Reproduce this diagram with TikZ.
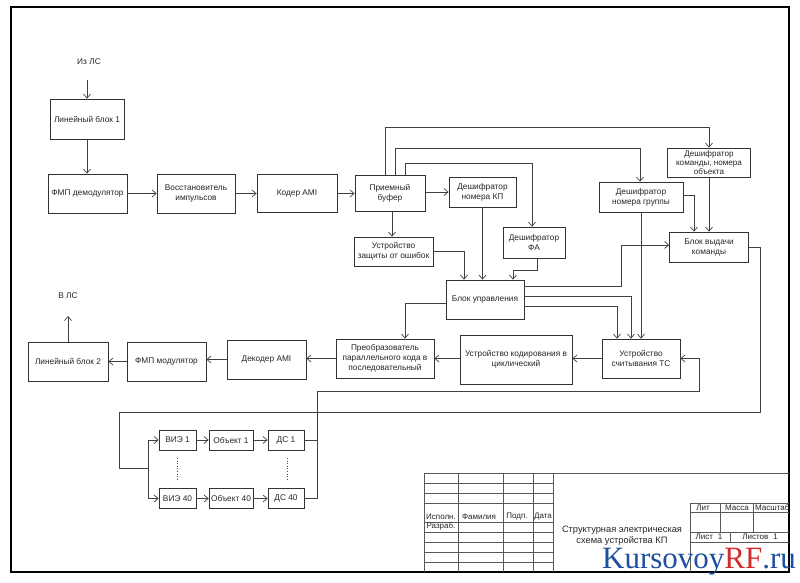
\documentclass[tikz,border=0pt]{standalone}
\usepackage{fontspec}
\setmainfont{Liberation Sans}
\newfontfamily\wmfont{Liberation Serif}
\usetikzlibrary{arrows.meta}
\definecolor{wmblue}{HTML}{1F4FA0}
\definecolor{wmred}{HTML}{D42A2A}
\begin{document}
\begin{tikzpicture}[x=1pt,y=-1pt,
  box/.style={draw=black!80, line width=0.8pt, align=center, font=\fontsize{8.3}{10}\selectfont, inner sep=1pt, text=black!85},
  conn/.style={draw=black!75, line width=0.7pt},
  arr/.style={conn, -{Straight Barb[length=4pt,width=7pt]}},
  tb/.style={draw=black!65, line width=0.6pt},
  lbl/.style={font=\fontsize{8.3}{10}\selectfont, text=black!85},
  tbl/.style={font=\fontsize{8}{8}\selectfont, text=black!85, inner sep=0pt},
]
\useasboundingbox (0,0) rectangle (800,583);
\fill[white] (0,0) rectangle (800,583);

% frame
\draw[line width=1.6pt, black] (11,7) rectangle (789,572);

% nodes
\node[box,minimum width=74pt,minimum height=40pt] (lb1) at (87,119) {Линейный блок 1};
\node[box,minimum width=79pt,minimum height=39pt] (fmpd) at (87.5,193.5) {ФМП демодулятор};
\node[box,minimum width=78pt,minimum height=39pt] (vost) at (196,193.5) {Восстановитель\\импульсов};
\node[box,minimum width=80pt,minimum height=38pt] (koder) at (297,193.5) {Кодер AMI};
\node[box,minimum width=70pt,minimum height=36pt] (buf) at (390,193) {Приемный\\буфер};
\node[box,minimum width=67pt,minimum height=30pt] (kp) at (482.5,192) {Дешифратор\\номера КП};
\node[box,minimum width=79pt,minimum height=29pt] (zash) at (393.5,251.5) {Устройство\\защиты от ошибок};
\node[box,minimum width=62pt,minimum height=31pt] (fa) at (534,242.5) {Дешифратор\\ФА};
\node[box,minimum width=83pt,minimum height=29pt,font=\fontsize{8.1}{9.3}\selectfont] (kom) at (709,162.5) {Дешифратор\\команды, номера\\объекта};
\node[box,minimum width=84pt,minimum height=30pt] (grp) at (641,197) {Дешифратор\\номера группы};
\node[box,minimum width=79pt,minimum height=30pt] (vyd) at (709,247) {Блок выдачи\\команды};
\node[box,minimum width=78pt,minimum height=39pt] (upr) at (485,299.5) {Блок управления};
\node[box,minimum width=80pt,minimum height=39pt] (lb2) at (68,361.5) {Линейный блок 2};
\node[box,minimum width=79pt,minimum height=39pt] (fmpm) at (166.5,361.5) {ФМП модулятор};
\node[box,minimum width=79pt,minimum height=39pt] (dek) at (266.5,359.5) {Декодер AMI};
\node[box,minimum width=98pt,minimum height=39pt] (preob) at (385,358.5) {Преобразователь\\параллельного кода в\\последовательный};
\node[box,minimum width=112pt,minimum height=49pt] (kod) at (516,359.5) {Устройство кодирования в\\циклический};
\node[box,minimum width=78pt,minimum height=39pt] (sch) at (641,358.5) {Устройство\\считывания ТС};

\node[box,minimum width=37pt,minimum height=20pt] (vie1) at (177.5,440) {ВИЭ 1};
\node[box,minimum width=44pt,minimum height=20pt] (ob1) at (231,440) {Объект 1};
\node[box,minimum width=36pt,minimum height=20pt] (ds1) at (286,440) {ДС 1};
\node[box,minimum width=37pt,minimum height=20pt] (vie40) at (177.5,498.5) {ВИЭ 40};
\node[box,minimum width=44pt,minimum height=20pt] (ob40) at (231,498.5) {Объект 40};
\node[box,minimum width=36pt,minimum height=20pt] (ds40) at (286,498.5) {ДС 40};

\node[lbl] (izls) at (89,62) {Из ЛС};
\node[lbl] (vls) at (68,296) {В ЛС};

% connectors
\coordinate (inp) at (87,80);
\coordinate (outp) at (68,316);
\draw[arr] (inp) -- (lb1.north);
\draw[arr] (lb1.south) -- (lb1.south |- fmpd.north);
\draw[arr] (fmpd.east) -- (fmpd.east -| vost.west);
\draw[arr] (vost.east) -- (vost.east -| koder.west);
\draw[arr] (koder.east) -- (koder.east -| buf.west);
\draw[arr] (buf.east |- kp.west) -- (kp.west);
\draw[arr] ([xshift=2pt]buf.south) -- ([xshift=2pt]buf.south |- zash.north);
\draw[arr] ([xshift=-5pt]buf.north) |- ([yshift=20pt]kom.north) -- (kom.north);
\draw[arr] ([xshift=5pt]buf.north) |- ([yshift=33pt,xshift=-1pt]grp.north) -- ([xshift=-1pt]grp.north);
\draw[arr] ([xshift=15pt]buf.north) |- ([yshift=63pt,xshift=-2pt]fa.north) -- ([xshift=-2pt]fa.north);
\draw[arr] (zash.east) -| ([xshift=-21pt]upr.north);
\draw[arr] (kp.south) -- (kp.south |- upr.north);
\draw[arr] ([xshift=3pt]fa.south) -- ++(0,12) -| ([xshift=28pt]upr.north);
\draw[arr] ([yshift=2pt]grp.east) -| ([xshift=-15pt]vyd.north);
\draw[arr] (kom.south) -- (vyd.north);
\draw[arr] ([yshift=13.5pt]upr.east) -| ([xshift=-48pt,yshift=2pt]vyd.west) -- ([yshift=2pt]vyd.west);
\draw[arr] ([yshift=3.5pt]upr.east) -| ([xshift=-10pt]sch.north);
\draw[arr] ([yshift=-6.5pt]upr.east) -| ([xshift=-24pt]sch.north);
\draw[arr] (grp.south) -- (sch.north);
\draw[arr] ([yshift=-3.5pt]upr.west) -| ([xshift=20pt]preob.north);
\draw[arr] (sch.west) -- (sch.west -| kod.east);
\draw[arr] (kod.west |- preob.east) -- (preob.east);
\draw[arr] (preob.west) -- (preob.west -| dek.east);
\draw[arr] (dek.west) -- (dek.west -| fmpm.east);
\draw[arr] (fmpm.west) -- (fmpm.west -| lb2.east);
\draw[arr] (lb2.north) -- (outp);

% command bus to objects
\coordinate (r1) at (760,412);
\coordinate (l1) at (119,468);
\coordinate (split) at (148,468);
\draw[conn] (vyd.east) -| (r1) -| (l1) -- (split);
\draw[arr] (split) |- (vie1.west);
\draw[arr] (split) |- (vie40.west);
\draw[arr] (vie1.east) -- (ob1.west);
\draw[arr] (ob1.east) -- (ds1.west);
\draw[arr] (vie40.east) -- (ob40.west);
\draw[arr] (ob40.east) -- (ds40.west);
\draw[black!70, line width=0.6pt, dotted] (177,458) -- (177,480);
\draw[black!70, line width=0.6pt, dotted] (287,458) -- (287,480);

% return from DS to TS reader
\coordinate (j1) at (317,391);
\draw[conn] (ds1.east) -- (ds1.east -| j1);
\draw[arr] (ds40.east) -| (j1) -| ([xshift=19pt]sch.east) -- (sch.east);

% title block
\draw[tb] (424,473) -- (789,473);
\draw[tb] (424,473) -- (424,572);
\foreach \x in {458,503,533,553} \draw[tb] (\x,473) -- (\x,572);
\foreach \y in {483,493,503,522,532,542,552,562} \draw[tb] (424,\y) -- (553,\y);
\draw[tb] (690,503) -- (789,503);
\draw[tb] (690,503) -- (690,572);
\foreach \y in {512,532,542} \draw[tb] (690,\y) -- (789,\y);
\foreach \x in {720,753} \draw[tb] (\x,503) -- (\x,532);
\draw[tb] (730,532) -- (730,542);

\node[tbl] (t1) at (441,517) {Исполн.};
\node[tbl] (t2) at (479,517) {Фамилия};
\node[tbl] (t3) at (517,517) {Подп.};
\node[tbl] (t4) at (543,517) {Дата};
\node[tbl] (t5) at (441,526.5) {Разраб.};
\node[tbl] (t6) at (703,508) {Лит};
\node[tbl] (t7) at (737,508) {Масса};
\node[tbl,anchor=west] (t8) at (755,508) {Масштаб};
\node[tbl] (t9) at (709,537) {Лист\hspace{5pt}1};
\node[tbl] (t10) at (760,537) {Листов\hspace{5pt}1};
\node[font=\fontsize{9.3}{11}\selectfont, align=center, text=black!85] (title) at (622,536) {Структурная электрическая\\схема устройства КП};

% watermark
\node[anchor=base west, inner sep=0pt, font=\wmfont\fontsize{31}{31}\selectfont] (wm) at (602,568) {\textcolor{wmblue}{Kursovoy}\textcolor{wmred}{RF}\textcolor{wmblue}{.ru}};
\end{tikzpicture}
\end{document}
